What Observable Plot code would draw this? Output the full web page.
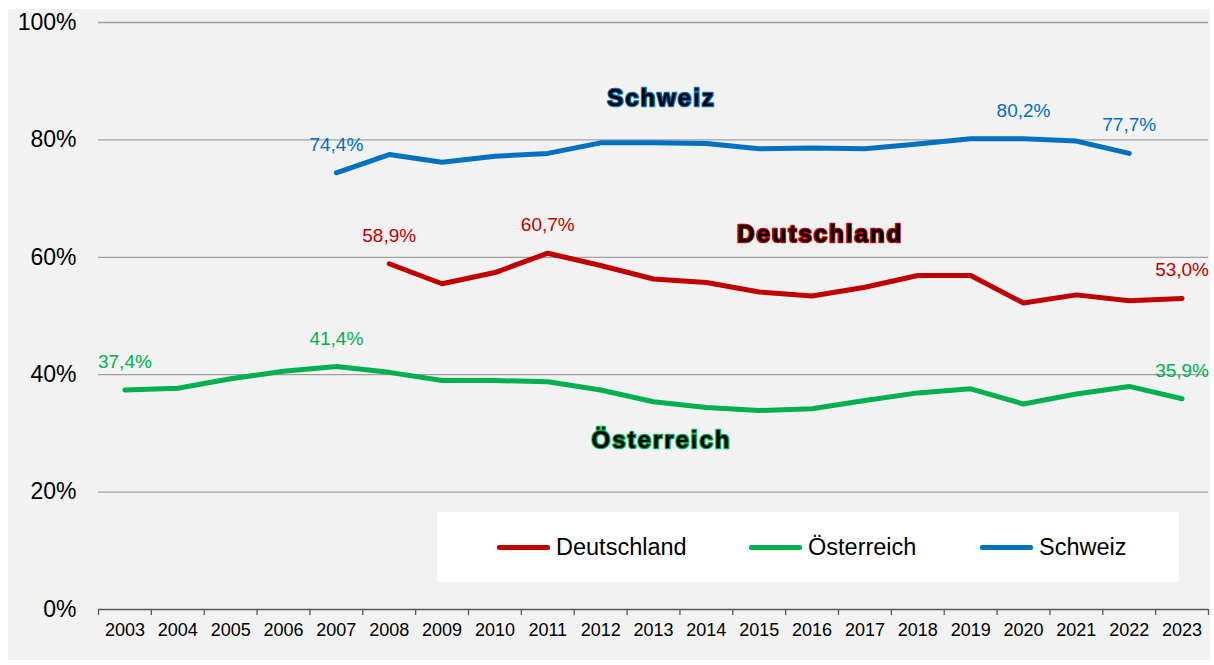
<!DOCTYPE html>
<html><head><meta charset="utf-8">
<script src="https://cdn.jsdelivr.net/npm/d3@7"></script>
<script src="https://cdn.jsdelivr.net/npm/@observablehq/plot@0.6"></script>
<style>
body{margin:0;background:#fff;}
#wrap{position:relative;width:1214px;height:665px;overflow:hidden;}
#panel{position:absolute;left:8px;top:9px;width:1202px;height:651px;background:#f2f2f2;}
#chart{position:absolute;left:0;top:0;}
#legend{position:absolute;left:437px;top:512px;width:742px;height:70px;background:#fff;font-family:"Liberation Sans",Arial,sans-serif;font-size:23.5px;color:#000;}
.item{position:absolute;top:0;height:70px;display:flex;align-items:center;}
.sw{width:53px;height:5px;border-radius:2px;margin-right:6px;}
</style>
</head><body>
<div id="wrap"><div id="panel"></div><div id="chart"></div><div id="legend"></div></div>
<script>
const years = d3.range(2003, 2024);
const seriesNames = ["Deutschland", "Österreich", "Schweiz"];
const seriesColors = ["#c00000", "#00b050", "#0070c0"];
const deutschlandYears = d3.range(2008, 2024);
const deutschland = [58.9, 55.5, 57.4, 60.7, 58.6, 56.3, 55.7, 54.1, 53.4, 54.9, 56.9, 56.9, 52.2, 53.6, 52.6, 53.0];
const oesterreichYears = d3.range(2003, 2024);
const oesterreich = [37.4, 37.7, 39.3, 40.6, 41.4, 40.4, 39.0, 39.0, 38.8, 37.4, 35.4, 34.4, 33.9, 34.2, 35.6, 36.9, 37.6, 35.0, 36.7, 38.0, 35.9];
const schweizYears = d3.range(2007, 2023);
const schweiz = [74.4, 77.5, 76.2, 77.2, 77.7, 79.5, 79.5, 79.4, 78.5, 78.6, 78.5, 79.3, 80.2, 80.2, 79.8, 77.7];
const labeledYears = {"Deutschland": [2008, 2011, 2023], "Österreich": [2003, 2007, 2023], "Schweiz": [2007, 2020, 2022]};
const yTicks = [0, 20, 40, 60, 80, 100];
const nameLabels = [
  {series: "Schweiz", year: 2013, value: 87.0},
  {series: "Deutschland", year: 2016, value: 64.0},
  {series: "Österreich", year: 2013, value: 28.9}
];

const rows = [];
[[deutschlandYears, deutschland, "Deutschland"], [oesterreichYears, oesterreich, "Österreich"], [schweizYears, schweiz, "Schweiz"]]
  .forEach(([ys, vs, s]) => ys.forEach((y, i) => rows.push({series: s, year: y, value: vs[i]})));
const labelRows = rows.filter(d => labeledYears[d.series].includes(d.year));
const colorOf = s => seriesColors[seriesNames.indexOf(s)];
const boundaries = years.map(y => y - 0.5).concat([years[years.length - 1] + 0.5]);

const plot = Plot.plot({
  width: 1214, height: 665,
  marginLeft: 98, marginRight: 6, marginTop: 22, marginBottom: 56,
  style: {background: "transparent", fontFamily: "Liberation Sans, Arial, sans-serif", color: "#000"},
  x: {domain: [years[0] - 0.5, years[years.length - 1] + 0.5]},
  y: {domain: [0, 100]},
  marks: [
    Plot.gridY(yTicks.filter(t => t > 0), {stroke: "#a0a0a0", strokeOpacity: 1, strokeWidth: 1.3}),
    Plot.axisY(yTicks, {tickSize: 0, tickPadding: 22, tickFormat: d => d + "%", fontSize: 23, label: null}),
    Plot.ruleY([0], {stroke: "#595959", strokeWidth: 1.3}),
    Plot.axisX(boundaries, {tickSize: 6, tickFormat: () => "", stroke: "#595959", strokeWidth: 1.3, label: null}),
    Plot.axisX(years, {tickSize: 0, tickPadding: 14, tickFormat: d => String(d), fontSize: 18, label: null}),
    ...seriesNames.map(s => Plot.line(rows.filter(d => d.series === s), {
      x: "year", y: "value", stroke: colorOf(s), strokeWidth: 5, strokeLinecap: "round", strokeLinejoin: "round"
    })),
    Plot.text(labelRows, {
      x: "year", y: "value", dy: -28, text: d => d.value.toFixed(1).replace(".", ",") + "%",
      fill: d => colorOf(d.series), fontSize: 19
    }),
    Plot.text(nameLabels, {
      x: "year", y: "value", dx: 8, text: "series", fill: "#000",
      stroke: d => colorOf(d.series), strokeWidth: 2.5, fontWeight: "bold", fontSize: 24
    })
  ]
});
d3.select(plot).selectAll("text").filter(function() { return seriesNames.includes(this.textContent); })
  .attr("letter-spacing", "2px").style("letter-spacing", "2px");
document.getElementById("chart").appendChild(plot);

const legend = document.getElementById("legend");
const legendLefts = [60, 312, 543];
seriesNames.forEach((s, i) => {
  const it = document.createElement("div");
  it.className = "item";
  it.style.left = legendLefts[i] + "px";
  it.innerHTML = `<div class="sw" style="background:${seriesColors[i]}"></div><span>${s}</span>`;
  legend.appendChild(it);
});
</script>
</body></html>
